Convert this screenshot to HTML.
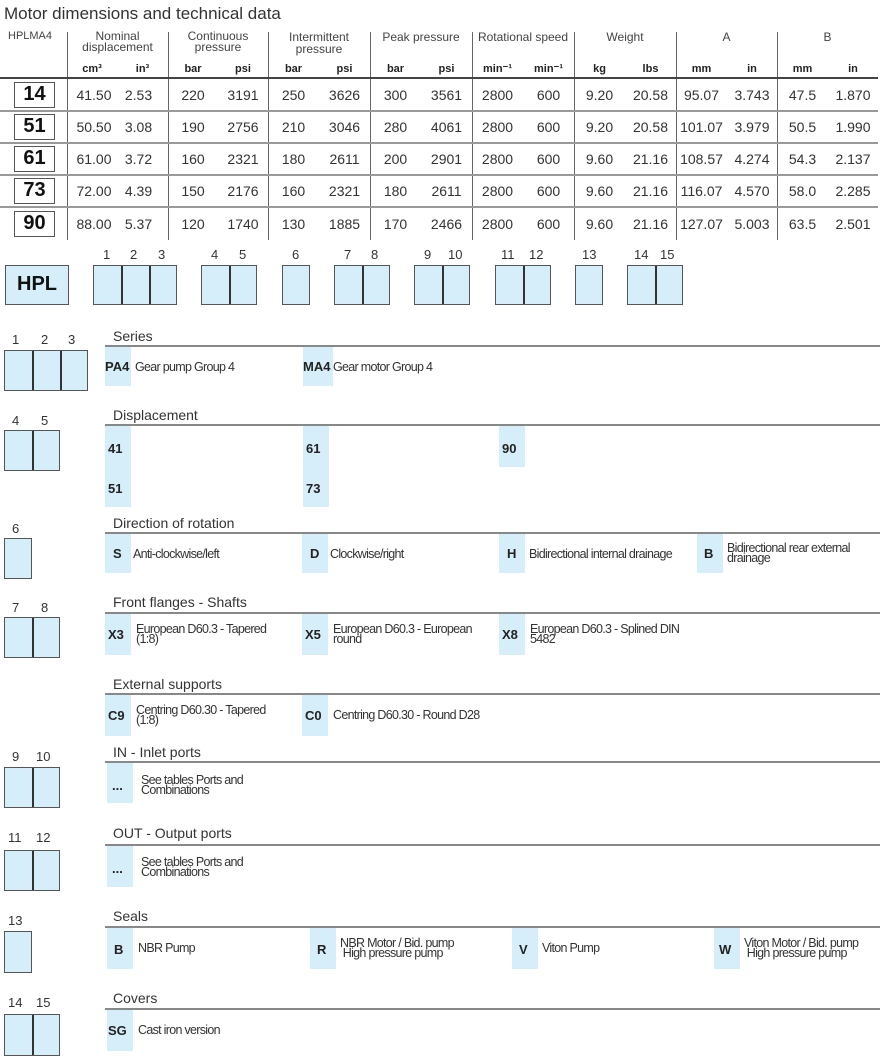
<!DOCTYPE html>
<html><head><meta charset="utf-8">
<style>
*{margin:0;padding:0;box-sizing:border-box}
body{width:880px;height:1062px;background:#fff;font-family:"Liberation Sans",Arial,sans-serif;color:#222;position:relative;overflow:hidden}
.a{position:absolute}
.t{position:absolute;white-space:nowrap;line-height:1}
.c{position:absolute;text-align:center;white-space:nowrap;line-height:1}
.vl{position:absolute;width:1px;background:#666}
.mb{position:absolute;left:14px;width:41px;height:26px;border:1.5px solid #555;font-weight:bold;font-size:20px;text-align:center;line-height:23px;color:#111}
.bx{position:absolute;background:#d6eefa;border:1.5px solid #555}
.cell{position:absolute;top:0;bottom:0;width:1.5px;background:#333}
.code{position:absolute;width:26px;background:#d6eefa}
.cd{position:absolute;font-weight:bold;font-size:13px;line-height:1;color:#222}
.ds{position:absolute;font-size:12.5px;letter-spacing:-0.7px;line-height:10px;color:#333;white-space:nowrap}
.h{position:absolute;left:113px;font-size:14px;color:#333;line-height:1}
.sl{position:absolute;left:105px;right:0;height:2px;background:#888}
.num{position:absolute;font-size:13px;color:#333;line-height:1}
</style></head><body>
<div class="t" style="left:4px;top:5px;font-size:17px;color:#333">Motor dimensions and technical data</div>

<div class="t" style="left:8px;top:31px;font-size:11px;color:#444">HPLMA4</div>
<div class="c" style="left:67px;width:101px;top:31px;font-size:12px;color:#444;line-height:11px">Nominal<br>displacement</div>
<div class="c" style="left:168px;width:100px;top:31px;font-size:12px;color:#444;line-height:11px">Continuous<br>pressure</div>
<div class="c" style="left:268px;width:102px;top:31px;font-size:12px;color:#444;line-height:12px">Intermittent<br>pressure</div>
<div class="c" style="left:370px;width:102px;top:31px;font-size:12px;color:#444">Peak pressure</div>
<div class="c" style="left:472px;width:102px;top:31px;font-size:12px;color:#444">Rotational speed</div>
<div class="c" style="left:574px;width:102px;top:31px;font-size:12px;color:#444">Weight</div>
<div class="c" style="left:676px;width:101px;top:31px;font-size:12px;color:#444">A</div>
<div class="c" style="left:777px;width:101px;top:31px;font-size:12px;color:#444">B</div>

<div class="a" style="left:0;top:64px;width:880px;font-size:11px;font-weight:bold;color:#222">
<div class="c" style="left:67px;width:50px">cm³</div><div class="c" style="left:117px;width:51px">in³</div>
<div class="c" style="left:168px;width:50px">bar</div><div class="c" style="left:218px;width:50px">psi</div>
<div class="c" style="left:268px;width:51px">bar</div><div class="c" style="left:319px;width:51px">psi</div>
<div class="c" style="left:370px;width:51px">bar</div><div class="c" style="left:421px;width:51px">psi</div>
<div class="c" style="left:472px;width:51px">min⁻¹</div><div class="c" style="left:523px;width:51px">min⁻¹</div>
<div class="c" style="left:574px;width:51px">kg</div><div class="c" style="left:625px;width:51px">lbs</div>
<div class="c" style="left:676px;width:51px">mm</div><div class="c" style="left:727px;width:50px">in</div>
<div class="c" style="left:777px;width:51px">mm</div><div class="c" style="left:828px;width:50px">in</div>
</div>

<div class="vl" style="left:67px;top:32px;height:208px"></div>
<div class="vl" style="left:168px;top:32px;height:208px"></div>
<div class="vl" style="left:268px;top:32px;height:208px"></div>
<div class="vl" style="left:370px;top:32px;height:208px"></div>
<div class="vl" style="left:472px;top:32px;height:208px"></div>
<div class="vl" style="left:574px;top:32px;height:208px"></div>
<div class="vl" style="left:676px;top:32px;height:208px"></div>
<div class="vl" style="left:777px;top:32px;height:208px"></div>

<div class="a" style="left:0;top:77px;width:878px;height:2px;background:#444"></div>
<div class="a" style="left:0;top:110px;width:878px;height:2px;background:#999"></div>
<div class="a" style="left:0;top:142px;width:878px;height:2px;background:#999"></div>
<div class="a" style="left:0;top:174px;width:878px;height:2px;background:#999"></div>
<div class="a" style="left:0;top:206px;width:878px;height:2px;background:#999"></div>

<div class="mb" style="top:82px">14</div>
<div class="mb" style="top:114px">51</div>
<div class="mb" style="top:146px">61</div>
<div class="mb" style="top:178px">73</div>
<div class="mb" style="top:211px">90</div>

<div class="a" style="left:0;top:88px;width:880px;font-size:14px;color:#333">
<div class="a" style="top:0;width:880px"><div class="c" style="left:67px;width:54px">41.50</div><div class="c" style="left:117px;width:43px">2.53</div><div class="c" style="left:168px;width:50px">220</div><div class="c" style="left:218px;width:50px">3191</div><div class="c" style="left:268px;width:51px">250</div><div class="c" style="left:319px;width:51px">3626</div><div class="c" style="left:370px;width:51px">300</div><div class="c" style="left:421px;width:51px">3561</div><div class="c" style="left:472px;width:51px">2800</div><div class="c" style="left:523px;width:51px">600</div><div class="c" style="left:574px;width:51px">9.20</div><div class="c" style="left:625px;width:51px">20.58</div><div class="c" style="left:676px;width:51px">95.07</div><div class="c" style="left:727px;width:50px">3.743</div><div class="c" style="left:777px;width:51px">47.5</div><div class="c" style="left:828px;width:50px">1.870</div></div>
<div class="a" style="top:32px;width:880px"><div class="c" style="left:67px;width:54px">50.50</div><div class="c" style="left:117px;width:43px">3.08</div><div class="c" style="left:168px;width:50px">190</div><div class="c" style="left:218px;width:50px">2756</div><div class="c" style="left:268px;width:51px">210</div><div class="c" style="left:319px;width:51px">3046</div><div class="c" style="left:370px;width:51px">280</div><div class="c" style="left:421px;width:51px">4061</div><div class="c" style="left:472px;width:51px">2800</div><div class="c" style="left:523px;width:51px">600</div><div class="c" style="left:574px;width:51px">9.20</div><div class="c" style="left:625px;width:51px">20.58</div><div class="c" style="left:676px;width:51px">101.07</div><div class="c" style="left:727px;width:50px">3.979</div><div class="c" style="left:777px;width:51px">50.5</div><div class="c" style="left:828px;width:50px">1.990</div></div>
<div class="a" style="top:64px;width:880px"><div class="c" style="left:67px;width:54px">61.00</div><div class="c" style="left:117px;width:43px">3.72</div><div class="c" style="left:168px;width:50px">160</div><div class="c" style="left:218px;width:50px">2321</div><div class="c" style="left:268px;width:51px">180</div><div class="c" style="left:319px;width:51px">2611</div><div class="c" style="left:370px;width:51px">200</div><div class="c" style="left:421px;width:51px">2901</div><div class="c" style="left:472px;width:51px">2800</div><div class="c" style="left:523px;width:51px">600</div><div class="c" style="left:574px;width:51px">9.60</div><div class="c" style="left:625px;width:51px">21.16</div><div class="c" style="left:676px;width:51px">108.57</div><div class="c" style="left:727px;width:50px">4.274</div><div class="c" style="left:777px;width:51px">54.3</div><div class="c" style="left:828px;width:50px">2.137</div></div>
<div class="a" style="top:96px;width:880px"><div class="c" style="left:67px;width:54px">72.00</div><div class="c" style="left:117px;width:43px">4.39</div><div class="c" style="left:168px;width:50px">150</div><div class="c" style="left:218px;width:50px">2176</div><div class="c" style="left:268px;width:51px">160</div><div class="c" style="left:319px;width:51px">2321</div><div class="c" style="left:370px;width:51px">180</div><div class="c" style="left:421px;width:51px">2611</div><div class="c" style="left:472px;width:51px">2800</div><div class="c" style="left:523px;width:51px">600</div><div class="c" style="left:574px;width:51px">9.60</div><div class="c" style="left:625px;width:51px">21.16</div><div class="c" style="left:676px;width:51px">116.07</div><div class="c" style="left:727px;width:50px">4.570</div><div class="c" style="left:777px;width:51px">58.0</div><div class="c" style="left:828px;width:50px">2.285</div></div>
<div class="a" style="top:129px;width:880px"><div class="c" style="left:67px;width:54px">88.00</div><div class="c" style="left:117px;width:43px">5.37</div><div class="c" style="left:168px;width:50px">120</div><div class="c" style="left:218px;width:50px">1740</div><div class="c" style="left:268px;width:51px">130</div><div class="c" style="left:319px;width:51px">1885</div><div class="c" style="left:370px;width:51px">170</div><div class="c" style="left:421px;width:51px">2466</div><div class="c" style="left:472px;width:51px">2800</div><div class="c" style="left:523px;width:51px">600</div><div class="c" style="left:574px;width:51px">9.60</div><div class="c" style="left:625px;width:51px">21.16</div><div class="c" style="left:676px;width:51px">127.07</div><div class="c" style="left:727px;width:50px">5.003</div><div class="c" style="left:777px;width:51px">63.5</div><div class="c" style="left:828px;width:50px">2.501</div></div>
</div>

<div class="bx" style="left:5px;top:265px;width:64px;height:40px;font-weight:bold;font-size:20px;text-align:center;line-height:37px;color:#111">HPL</div>
<div class="bx" style="left:93px;top:265px;width:84px;height:40px"><div class="cell" style="left:27px"></div><div class="cell" style="left:55px"></div></div>
<div class="bx" style="left:201px;top:265px;width:56px;height:40px"><div class="cell" style="left:27px"></div></div>
<div class="bx" style="left:282px;top:265px;width:28px;height:40px"></div>
<div class="bx" style="left:334px;top:265px;width:56px;height:40px"><div class="cell" style="left:27px"></div></div>
<div class="bx" style="left:414px;top:265px;width:56px;height:40px"><div class="cell" style="left:27px"></div></div>
<div class="bx" style="left:495px;top:265px;width:56px;height:40px"><div class="cell" style="left:27px"></div></div>
<div class="bx" style="left:575px;top:265px;width:28px;height:40px"></div>
<div class="bx" style="left:627px;top:265px;width:56px;height:40px"><div class="cell" style="left:27px"></div></div>
<div class="num" style="left:103px;top:248px">1</div><div class="num" style="left:130px;top:248px">2</div><div class="num" style="left:158px;top:248px">3</div>
<div class="num" style="left:211px;top:248px">4</div><div class="num" style="left:239px;top:248px">5</div>
<div class="num" style="left:292px;top:248px">6</div>
<div class="num" style="left:344px;top:248px">7</div><div class="num" style="left:371px;top:248px">8</div>
<div class="num" style="left:424px;top:248px">9</div><div class="num" style="left:448px;top:248px">10</div>
<div class="num" style="left:501px;top:248px">11</div><div class="num" style="left:529px;top:248px">12</div>
<div class="num" style="left:582px;top:248px">13</div><div class="num" style="left:634px;top:248px">14</div><div class="num" style="left:660px;top:248px">15</div>

<div class="num" style="left:12px;top:333px">1</div><div class="num" style="left:41px;top:333px">2</div><div class="num" style="left:68px;top:333px">3</div>
<div class="bx" style="left:4px;top:350px;width:84px;height:41px"><div class="cell" style="left:27px"></div><div class="cell" style="left:55px"></div></div>
<div class="h" style="top:329px">Series</div>
<div class="code" style="left:105px;top:346px;height:40px"></div>
<div class="code" style="left:303px;top:346px;height:40px;width:30px"></div>
<div class="sl" style="top:345px"></div>
<div class="cd" style="left:105px;top:360px">PA4</div><div class="ds" style="left:135px;top:362px">Gear pump Group 4</div>
<div class="cd" style="left:303px;top:360px">MA4</div><div class="ds" style="left:333px;top:362px">Gear motor Group 4</div>

<div class="num" style="left:12px;top:414px">4</div><div class="num" style="left:41px;top:414px">5</div>
<div class="bx" style="left:4px;top:430px;width:56px;height:41px"><div class="cell" style="left:27px"></div></div>
<div class="h" style="top:408px">Displacement</div>
<div class="code" style="left:105px;top:425px;height:82px"></div>
<div class="code" style="left:303px;top:425px;height:82px"></div>
<div class="code" style="left:499px;top:425px;height:42px"></div>
<div class="sl" style="top:424px"></div>
<div class="cd" style="left:108px;top:442px">41</div><div class="cd" style="left:108px;top:482px">51</div>
<div class="cd" style="left:306px;top:442px">61</div><div class="cd" style="left:306px;top:482px">73</div>
<div class="cd" style="left:502px;top:442px">90</div>

<div class="num" style="left:12px;top:522px">6</div>
<div class="bx" style="left:4px;top:538px;width:28px;height:41px"></div>
<div class="h" style="top:516px">Direction of rotation</div>
<div class="code" style="left:105px;top:533px;height:40px"></div>
<div class="code" style="left:302px;top:533px;height:40px"></div>
<div class="code" style="left:499px;top:533px;height:40px"></div>
<div class="code" style="left:697px;top:533px;height:40px"></div>
<div class="sl" style="top:532px"></div>
<div class="cd" style="left:113px;top:547px">S</div><div class="ds" style="left:133px;top:549px">Anti-clockwise/left</div>
<div class="cd" style="left:310px;top:547px">D</div><div class="ds" style="left:330px;top:549px">Clockwise/right</div>
<div class="cd" style="left:507px;top:547px">H</div><div class="ds" style="left:529px;top:549px">Bidirectional internal drainage</div>
<div class="cd" style="left:704px;top:547px">B</div><div class="ds" style="left:727px;top:543px">Bidirectional rear external<br>drainage</div>

<div class="num" style="left:12px;top:601px">7</div><div class="num" style="left:41px;top:601px">8</div>
<div class="bx" style="left:4px;top:617px;width:56px;height:41px"><div class="cell" style="left:27px"></div></div>
<div class="h" style="top:595px">Front flanges - Shafts</div>
<div class="code" style="left:105px;top:613px;height:42px"></div>
<div class="code" style="left:302px;top:613px;height:42px"></div>
<div class="code" style="left:499px;top:613px;height:42px"></div>
<div class="sl" style="top:612px"></div>
<div class="cd" style="left:108px;top:628px">X3</div><div class="ds" style="left:136px;top:624px">European D60.3 - Tapered<br>(1:8)</div>
<div class="cd" style="left:305px;top:628px">X5</div><div class="ds" style="left:333px;top:624px">European D60.3 - European<br>round</div>
<div class="cd" style="left:502px;top:628px">X8</div><div class="ds" style="left:530px;top:624px">European D60.3 - Splined DIN<br>5482</div>

<div class="h" style="top:677px">External supports</div>
<div class="code" style="left:105px;top:694px;height:42px"></div>
<div class="code" style="left:302px;top:694px;height:42px"></div>
<div class="sl" style="top:693px"></div>
<div class="cd" style="left:108px;top:709px">C9</div><div class="ds" style="left:136px;top:705px">Centring D60.30 - Tapered<br>(1:8)</div>
<div class="cd" style="left:305px;top:709px">C0</div><div class="ds" style="left:333px;top:710px">Centring D60.30 - Round D28</div>

<div class="num" style="left:12px;top:750px">9</div><div class="num" style="left:36px;top:750px">10</div>
<div class="bx" style="left:4px;top:767px;width:56px;height:41px"><div class="cell" style="left:27px"></div></div>
<div class="h" style="top:745px">IN - Inlet ports</div>
<div class="code" style="left:107px;top:762px;height:41px"></div>
<div class="sl" style="top:761px"></div>
<div class="cd" style="left:112px;top:779px">...</div><div class="ds" style="left:141px;top:775px">See tables Ports and<br>Combinations</div>

<div class="num" style="left:8px;top:831px">11</div><div class="num" style="left:36px;top:831px">12</div>
<div class="bx" style="left:4px;top:850px;width:56px;height:41px"><div class="cell" style="left:27px"></div></div>
<div class="h" style="top:826px">OUT - Output ports</div>
<div class="code" style="left:107px;top:845px;height:42px"></div>
<div class="sl" style="top:844px"></div>
<div class="cd" style="left:112px;top:862px">...</div><div class="ds" style="left:141px;top:857px">See tables Ports and<br>Combinations</div>

<div class="num" style="left:8px;top:914px">13</div>
<div class="bx" style="left:4px;top:931px;width:28px;height:42px"></div>
<div class="h" style="top:909px">Seals</div>
<div class="code" style="left:107px;top:927px;height:42px"></div>
<div class="code" style="left:310px;top:927px;height:42px"></div>
<div class="code" style="left:512px;top:927px;height:42px"></div>
<div class="code" style="left:714px;top:927px;height:42px"></div>
<div class="sl" style="top:926px"></div>
<div class="cd" style="left:114px;top:943px">B</div><div class="ds" style="left:138px;top:943px">NBR Pump</div>
<div class="cd" style="left:317px;top:943px">R</div><div class="ds" style="left:340px;top:938px">NBR Motor / Bid. pump<br>&nbsp;High pressure pump</div>
<div class="cd" style="left:519px;top:943px">V</div><div class="ds" style="left:542px;top:943px">Viton Pump</div>
<div class="cd" style="left:719px;top:943px">W</div><div class="ds" style="left:744px;top:938px">Viton Motor / Bid. pump<br>&nbsp;High pressure pump</div>

<div class="num" style="left:8px;top:996px">14</div><div class="num" style="left:36px;top:996px">15</div>
<div class="bx" style="left:4px;top:1014px;width:56px;height:42px"><div class="cell" style="left:27px"></div></div>
<div class="h" style="top:991px">Covers</div>
<div class="code" style="left:107px;top:1009px;height:42px"></div>
<div class="sl" style="top:1008px"></div>
<div class="cd" style="left:108px;top:1024px">SG</div><div class="ds" style="left:138px;top:1025px">Cast iron version</div>
</body></html>
